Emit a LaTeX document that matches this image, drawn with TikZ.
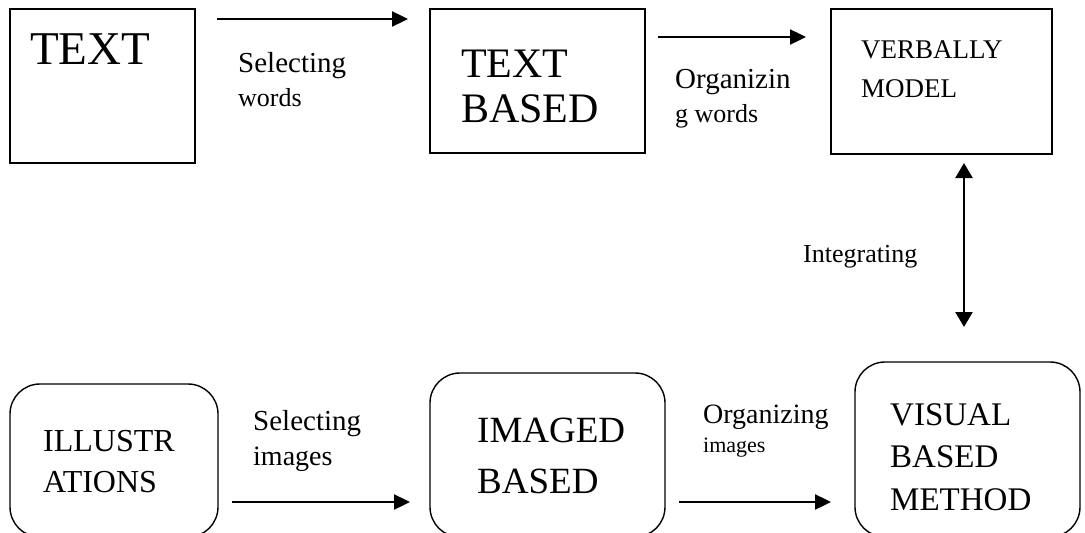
\documentclass[tikz,border=0pt]{standalone}
\usepackage{fontspec}
\setmainfont{Liberation Serif}
\usetikzlibrary{arrows.meta, positioning, calc}

\begin{document}
\begin{tikzpicture}[x=1pt, y=-1pt,
  box/.style={draw, line width=1.6pt, inner sep=0pt, outer sep=0pt},
  rbox/.style={draw, line width=1.4pt, rounded corners=30pt, inner sep=0pt, outer sep=0pt},
  lbl/.style={inner sep=0pt, anchor=base west, align=left},
  flow/.style={line width=2.4pt, -{Triangle[length=16pt,width=15pt]}},
  dflow/.style={line width=2.4pt, {Triangle[length=15pt,width=17pt]}-{Triangle[length=15pt,width=17pt]}}]
\useasboundingbox (0,0) rectangle (1085,533);
\clip (0,0) rectangle (1085,533);

% Upper row: words
\node[box, minimum width=185pt, minimum height=154pt] (txt) at (102.5,86) {};
\node[box, minimum width=215pt, minimum height=144pt] (tb) at (537.5,81) {};
\node[box, minimum width=221pt, minimum height=145pt] (vm) at (941.5,81.5) {};
\node[lbl, font=\fontsize{47}{47}\selectfont] (txtlbl) at (30,64) {TEXT};
\node[lbl, font=\fontsize{42}{45}\selectfont] (tblbl) at (461,122) {TEXT\\BASED};
\node[lbl, font=\fontsize{27}{39}\selectfont] (vmlbl) at (861,97) {VERBALLY\\MODEL};

% Lower row: images
\node[rbox, minimum width=208pt, minimum height=153pt] (ill) at (114,460.5) {};
\node[rbox, minimum width=235pt, minimum height=164pt] (ib) at (547.5,455) {};
\node[rbox, minimum width=225pt, minimum height=175pt] (vbm) at (967.5,449.5) {};
\node[lbl, font=\fontsize{32}{41}\selectfont] (illlbl) at (43,492) {ILLUSTR\\ATIONS};
\node[lbl, font=\fontsize{37}{51}\selectfont] (iblbl) at (477,493) {IMAGED\\BASED};
\node[lbl, font=\fontsize{33}{42.5}\selectfont] (vbmlbl) at (890,510) {VISUAL\\BASED\\METHOD};

% arrows and their labels
\draw[flow] ($(txt.north east)+(22,10)$) -- ($(tb.north west)+(-22,10)$);
\draw[flow] ($(tb.north east)+(13,28)$) -- ($(vm.north west)+(-25,28)$);
\draw[dflow] ($(vm.south)+(22.5,9)$) -- ($(vbm.north)+(-3.5,-35)$);
\draw[flow] ($(ill.north east)+(14,118)$) -- ($(ib.north west)+(-20,129)$);
\draw[flow] ($(ib.north east)+(14,129)$) -- ($(vbm.north west)+(-24,140)$);

\node[lbl, font=\fontsize{29}{34}\selectfont] (selw) at (238,106) {Selecting\\{\fontsize{26}{34}\selectfont words}};
\node[lbl, font=\fontsize{29}{34}\selectfont] (orgw) at (675,122) {Organizin\\{\fontsize{26}{34}\selectfont g words}};
\node[lbl, font=\fontsize{26}{30}\selectfont] (integ) at (803,262) {Integrating};
\node[lbl, font=\fontsize{29}{35}\selectfont] (seli) at (253,465) {Selecting\\{\fontsize{28}{35}\selectfont images}};
\node[lbl, font=\fontsize{28}{29}\selectfont] (orgi) at (703,452) {Organizing\\{\fontsize{22}{29}\selectfont images}};
\end{tikzpicture}
\end{document}
